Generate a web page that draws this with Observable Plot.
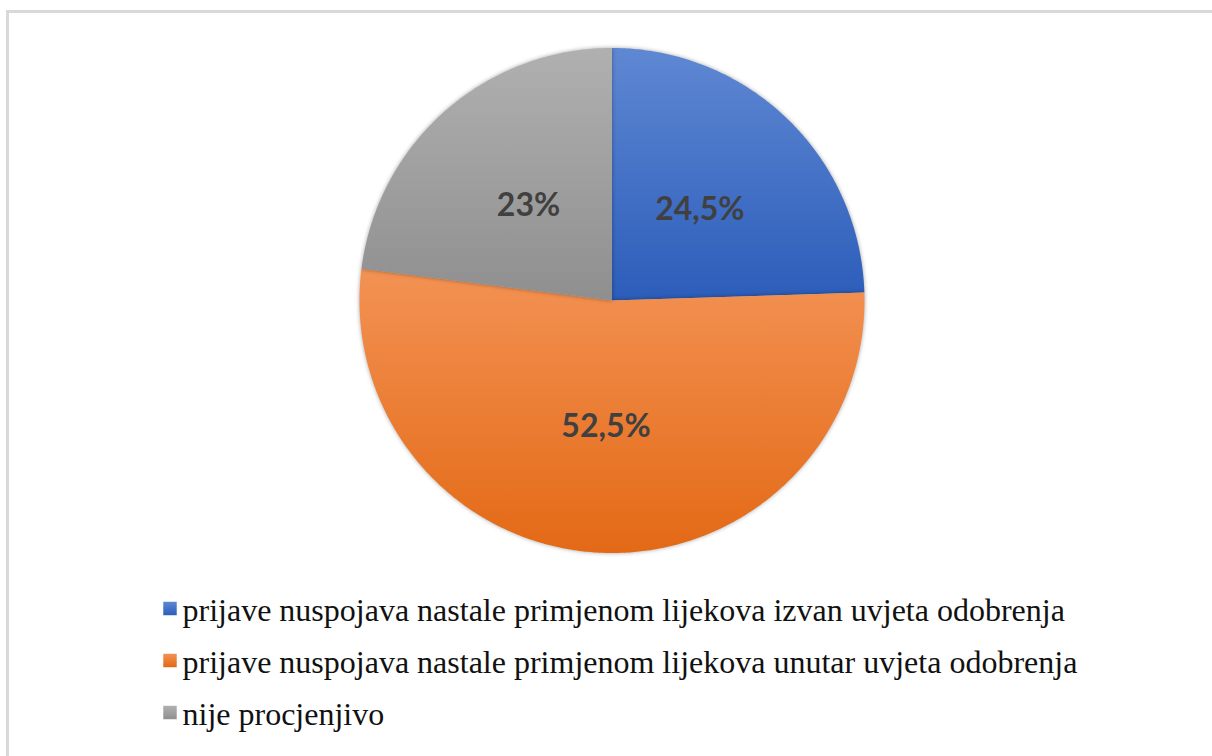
<!DOCTYPE html>
<html>
<head>
<meta charset="utf-8">
<script src="https://cdn.jsdelivr.net/npm/d3@7"></script>
<script src="https://cdn.jsdelivr.net/npm/@observablehq/plot@0.6"></script>
<style>
  html, body { margin: 0; padding: 0; background: #fff; overflow: hidden; width: 1212px; height: 756px; }
  #frame { position: absolute; left: 6px; top: 10px; width: 1212px; height: 800px; border: 3px solid #d9d9d9; background: #fff; }
  #chart svg { display: block; }
</style>
</head>
<body>
<div id="frame">
  <div id="chart"></div>
</div>
<script>
const categories = [
  "prijave nuspojava nastale primjenom lijekova izvan uvjeta odobrenja",
  "prijave nuspojava nastale primjenom lijekova unutar uvjeta odobrenja",
  "nije procjenjivo"
];
const values = [24.5, 52.5, 23];
const valueLabels = ["24,5%", "52,5%", "23%"];
const gradTop = ["#5F88D3", "#F39254", "#B0B0B0"];
const gradBottom = ["#2C5DBA", "#E36915", "#8F8F8F"];

const W = 1206, H = 743;
const cx = 602.5, cy = 287, r = 252.5;
const legendTop = 607, legendStep = 52;

const arcs = d3.pie().sort(null).value(d => d)(values);
const pts = [];
arcs.forEach((a, i) => {
  const k = categories[i];
  pts.push({k, x: 0, y: 0});
  const n = Math.max(2, Math.ceil((a.endAngle - a.startAngle) / (Math.PI / 360)));
  for (let j = 0; j <= n; j++) {
    const t = a.startAngle + (a.endAngle - a.startAngle) * j / n;
    pts.push({k, x: Math.sin(t), y: Math.cos(t)});
  }
  pts.push({k, x: 0, y: 0});
});
const labelPts = arcs.map((a, i) => {
  const m = (a.startAngle + a.endAngle) / 2;
  return {x: 0.5 * Math.sin(m), y: 0.5 * Math.cos(m), text: valueLabels[i]};
});

const plot = Plot.plot({
  width: W,
  height: H,
  margin: 0,
  x: {domain: [-1, 1], range: [cx - r, cx + r], axis: null},
  y: {domain: [-1, 1], range: [cy + r, cy - r], axis: null},
  marks: [
    ...categories.map((c, i) => Plot.line(pts.filter(p => p.k === c), {
      x: "x", y: "y", fill: `url(#grad${i})`, stroke: "none"
    })),
    Plot.text(labelPts, {
      x: "x", y: "y", text: "text",
      fontSize: 32, fontWeight: "bold", fontFamily: "Lato", fill: "#404040"
    }),
    ...categories.map((c, i) => Plot.dot([c], {
      frameAnchor: "top-left", dx: 169.5 - 9, dy: legendTop - 12 + i * legendStep,
      symbol: "square", r: 7.6, fill: `url(#grad${i})`, stroke: "none"
    })),
    ...categories.map((c, i) => Plot.text([c], {
      frameAnchor: "top-left", dx: 173, dy: legendTop + i * legendStep,
      text: d => d, textAnchor: "start", lineAnchor: "bottom",
      fontSize: 32, fontFamily: "Liberation Serif", fill: "#111"
    }))
  ]
});

const svg = d3.select(plot);
const defs = svg.insert("defs", ":first-child");
categories.forEach((c, i) => {
  const g = defs.append("linearGradient").attr("id", `grad${i}`)
    .attr("x1", 0).attr("y1", 0).attr("x2", 0).attr("y2", 1);
  g.append("stop").attr("offset", "0%").attr("stop-color", gradTop[i]);
  g.append("stop").attr("offset", "100%").attr("stop-color", gradBottom[i]);
});
svg.selectAll("g[aria-label=line]").style("filter", "drop-shadow(0 0 2px rgba(0,0,0,0.35))");
document.getElementById("chart").appendChild(plot);
</script>
</body>
</html>
